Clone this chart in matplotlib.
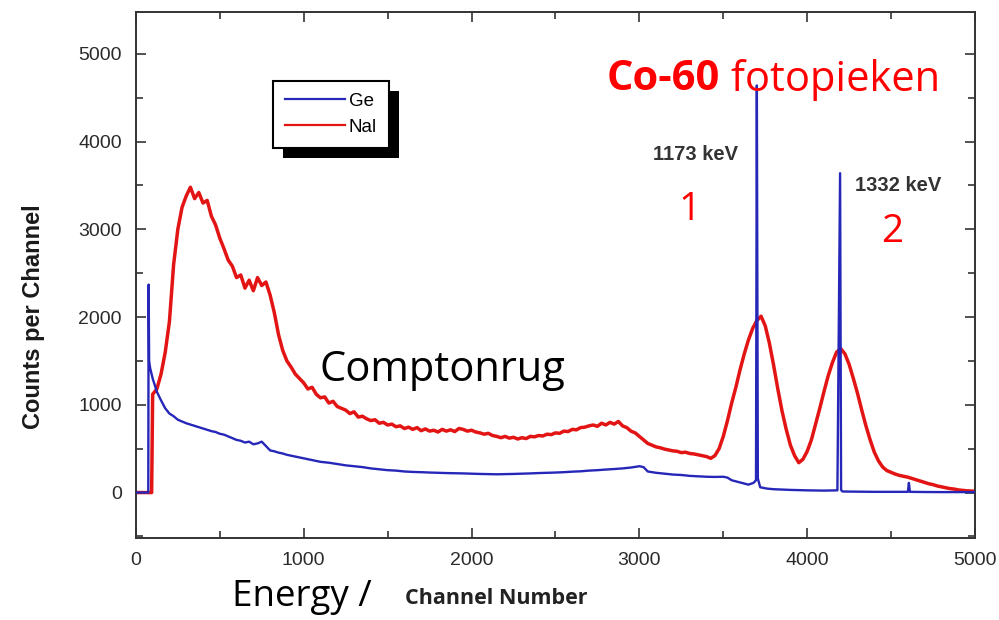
import matplotlib
matplotlib.use('Agg')
import matplotlib.pyplot as plt
from matplotlib.patches import Rectangle
from matplotlib.ticker import MultipleLocator

# NaI spectrum
nai_channel = [0, 50, 94, 100, 125, 150, 175, 200, 225, 250, 275, 300, 325, 350, 375, 400,
               425, 450, 475, 500, 525, 550, 575, 600, 625, 650, 675, 700, 725, 750, 775,
               800, 825, 850, 875, 900, 925, 950, 975, 1000, 1025, 1050, 1075, 1100, 1125,
               1150, 1175, 1200, 1225, 1250, 1275, 1300, 1325, 1350, 1375, 1400, 1425, 1450,
               1475, 1500, 1525, 1550, 1575, 1600, 1625, 1650, 1675, 1700, 1725, 1750, 1775,
               1800, 1825, 1850, 1875, 1900, 1925, 1950, 1975, 2000, 2025, 2050, 2075, 2100,
               2125, 2150, 2175, 2200, 2225, 2250, 2275, 2300, 2325, 2350, 2375, 2400, 2425,
               2450, 2475, 2500, 2525, 2550, 2575, 2600, 2625, 2650, 2675, 2700, 2725, 2750,
               2775, 2800, 2825, 2850, 2875, 2900, 2925, 2950, 2975, 3000, 3025, 3050, 3075,
               3100, 3125, 3150, 3175, 3200, 3225, 3250, 3275, 3300, 3325, 3350, 3375, 3400,
               3425, 3450, 3475, 3500, 3525, 3550, 3575, 3600, 3625, 3650, 3675, 3700, 3725,
               3750, 3775, 3800, 3825, 3850, 3875, 3900, 3925, 3950, 3975, 4000, 4025, 4050,
               4075, 4100, 4125, 4150, 4175, 4200, 4225, 4250, 4275, 4300, 4325, 4350, 4375,
               4400, 4425, 4450, 4475, 4500, 4525, 4550, 4575, 4600, 4625, 4650, 4675, 4700,
               4725, 4750, 4775, 4800, 4825, 4850, 4875, 4900, 4925, 4950, 4975, 5000]
nai_counts = [0, 0, 0, 1120, 1180, 1350, 1600, 1950, 2600, 3000, 3250, 3380, 3480, 3350, 3420,
              3300, 3330, 3150, 3050, 2900, 2780, 2650, 2580, 2450, 2480, 2330, 2420, 2300,
              2450, 2360, 2400, 2250, 2050, 1800, 1620, 1500, 1430, 1350, 1300, 1250, 1180,
              1200, 1120, 1080, 1090, 1020, 1040, 980, 960, 940, 900, 920, 860, 870, 840, 820,
              830, 790, 800, 770, 780, 750, 760, 730, 745, 720, 740, 705, 725, 700, 710, 690,
              720, 700, 715, 695, 730, 720, 700, 710, 690, 680, 665, 675, 650, 640, 625, 640,
              620, 630, 610, 625, 615, 640, 635, 650, 645, 665, 660, 680, 675, 700, 695, 720,
              715, 740, 745, 760, 770, 755, 790, 770, 800, 780, 810, 760, 740, 700, 680, 640,
              600, 560, 540, 520, 510, 495, 485, 475, 470, 455, 460, 445, 440, 430, 420, 410,
              390, 420, 500, 640, 820, 1020, 1200, 1400, 1580, 1740, 1870, 1960, 2010, 1900,
              1700, 1450, 1180, 930, 720, 540, 420, 340, 380, 470, 600, 780, 960, 1150, 1330,
              1480, 1600, 1640, 1580, 1460, 1300, 1130, 940, 760, 600, 460, 360, 290, 250, 230,
              210, 195, 185, 175, 160, 145, 130, 115, 100, 90, 75, 65, 55, 45, 40, 30, 25, 20,
              18, 15]

# Ge spectrum
ge_channel = [0, 50, 74, 76, 79, 85, 100, 125, 150, 175, 200, 225, 250, 275, 300, 325, 350,
              375, 400, 425, 450, 475, 500, 525, 550, 575, 600, 625, 650, 675, 700, 725, 750,
              775, 800, 825, 850, 875, 900, 925, 950, 975, 1000, 1050, 1100, 1150, 1200, 1250,
              1300, 1350, 1400, 1450, 1500, 1550, 1600, 1650, 1700, 1750, 1800, 1850, 1900,
              1950, 2000, 2050, 2100, 2150, 2200, 2250, 2300, 2350, 2400, 2450, 2500, 2550,
              2600, 2650, 2700, 2750, 2800, 2850, 2900, 2950, 3000, 3025, 3050, 3100, 3150,
              3200, 3250, 3300, 3350, 3400, 3450, 3500, 3525, 3550, 3600, 3650, 3680, 3695,
              3700, 3706, 3720, 3760, 3800, 3900, 4000, 4100, 4180, 4196, 4202, 4210, 4300,
              4400, 4500, 4600, 4606, 4612, 4700, 4800, 4900, 5000]
ge_counts = [0, 0, 0, 2370, 1500, 1420, 1300, 1150, 1050, 960, 900, 870, 830, 810, 790, 775,
             760, 745, 730, 715, 700, 690, 670, 660, 640, 620, 600, 590, 570, 580, 550, 560,
             580, 530, 480, 470, 455, 445, 430, 420, 410, 400, 390, 370, 350, 340, 325, 310,
             300, 290, 275, 265, 255, 250, 240, 235, 232, 228, 225, 222, 220, 218, 215, 212,
             210, 208, 210, 212, 215, 218, 222, 225, 228, 232, 238, 242, 250, 255, 262, 268,
             275, 285, 300, 290, 240, 225, 215, 205, 200, 190, 185, 180, 178, 180, 170, 140,
             115, 90, 110, 140, 4640, 160, 60, 45, 38, 30, 25, 22, 25, 3640, 30, 12, 10, 8, 8,
             8, 110, 8, 6, 5, 5, 5]

xticks = [0, 1000, 2000, 3000, 4000, 5000]
yticks = [0, 1000, 2000, 3000, 4000, 5000]

blue = '#2626b8'
red = '#e31414'

fig = plt.figure(figsize=(9.99, 6.2), dpi=100)
ax = fig.add_axes([0.136, 0.132, 0.840, 0.849])

ax.plot(nai_channel, nai_counts, color=red, lw=2.5, label='Nal', zorder=2)
ax.plot(ge_channel, ge_counts, color=blue, lw=1.7, label='Ge', zorder=3)

ax.set_xlim(0, 5000)
ax.set_ylim(-520, 5480)
ax.set_xticks(xticks)
ax.set_yticks(yticks)
ax.xaxis.set_minor_locator(MultipleLocator(500))
ax.yaxis.set_minor_locator(MultipleLocator(500))
ax.tick_params(which='both', direction='in', top=True, right=True, color='#333333', width=1.2)
ax.tick_params(which='major', length=7, labelsize=14, pad=10)
ax.tick_params(which='minor', length=5)
for lab in ax.get_xticklabels() + ax.get_yticklabels():
    lab.set_family('Liberation Sans')
    lab.set_color('#2a2a2a')
for sp in ax.spines.values():
    sp.set_color('#333333')
    sp.set_linewidth(1.4)

# legend with solid black shadow
handles, labels = ax.get_legend_handles_labels()
leg = ax.legend(handles[::-1], labels[::-1], loc='upper left',
                bbox_to_anchor=(0.163, 0.869), fancybox=False, framealpha=1,
                edgecolor='black', handlelength=3.2, handletextpad=0.2,
                borderpad=0.65, labelspacing=0.45, borderaxespad=0,
                prop={'family': 'Liberation Sans', 'size': 13.5})
leg.get_frame().set_linewidth(1.5)
for line in leg.get_lines():
    line.set_linewidth(1.6)
leg.set_zorder(5)
fig.canvas.draw()
bb = leg.get_window_extent().transformed(fig.transFigure.inverted())
ax.add_patch(Rectangle((bb.x0 + 0.010, bb.y0 - 0.016), bb.width, bb.height,
                       transform=fig.transFigure, facecolor='black',
                       edgecolor='none', zorder=4.5, clip_on=False))

# annotations
ax.text(1824, 1400, 'Comptonrug', fontsize=30, family='Open Sans', color='black',
        ha='center', va='center')
co = ax.text(2807, 4705, 'Co-60', fontsize=30, family='Open Sans', weight='bold',
             color='#ff0000', ha='left', va='center')
ax.annotate(' fotopieken', xy=(1, 0.5), xycoords=co, fontsize=30, family='Open Sans',
            color='#ff0000', ha='left', va='center')
ax.text(3081, 3850, '1173 keV', fontsize=14.5, family='Liberation Sans', weight='bold',
        color='#333333', ha='left', va='center')
ax.text(4285, 3495, '1332 keV', fontsize=14.5, family='Liberation Sans', weight='bold',
        color='#333333', ha='left', va='center')
ax.text(3301, 3221, '1', fontsize=28, family='Open Sans', color='#ff0000',
        ha='center', va='center')
ax.text(4505, 2970, '2', fontsize=28, family='Open Sans', color='#ff0000',
        ha='center', va='center')

fig.text(0.034, 0.49, 'Counts per Channel', rotation=90, fontsize=17,
         family='Liberation Sans', weight='bold', color='#1a1a1a',
         ha='center', va='center')
fig.text(0.232, 0.037, 'Energy /', fontsize=26.5, family='Open Sans', ha='left',
         va='center')
fig.text(0.405, 0.034, 'Channel Number', fontsize=15.5, family='Open Sans',
         weight='bold', color='#222222', ha='left', va='center')

fig.savefig('out.png', dpi=100)
